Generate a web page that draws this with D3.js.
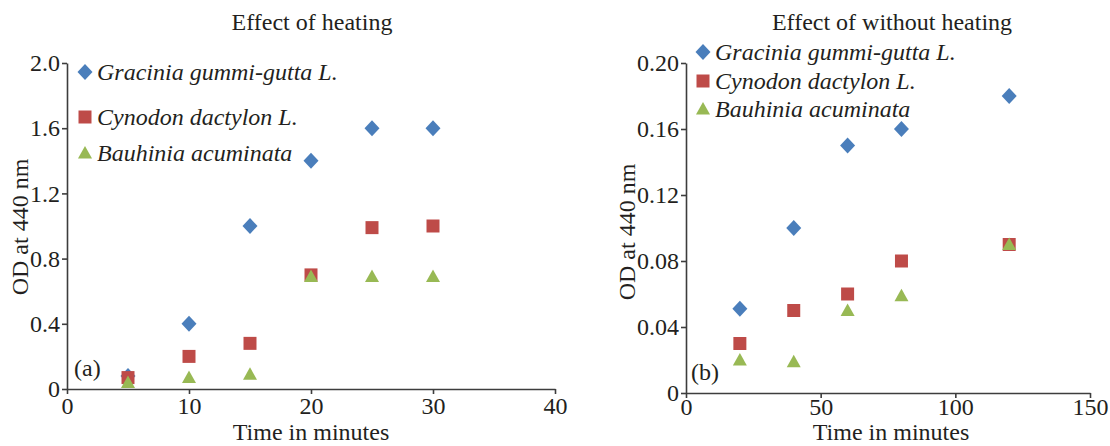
<!doctype html>
<html>
<head>
<meta charset="UTF-8">
<script src="https://d3js.org/d3.v7.min.js"></script>
<style>
  body { margin: 0; background: #fff; }
  text { fill: #231f20; }
  .axis path, .axis line { stroke: #3d3d3d; stroke-width: 1.6; }
  .axis text { fill: #231f20; }
</style>
</head>
<body>
<div id="graph"></div>
<script>
var w = 1110, h = 446;
var serif = "'Liberation Serif', 'Times New Roman', serif";

// panel (a): heating
var timeA = [5, 10, 15, 20, 25, 30];
var gracA = [0.08, 0.4, 1.0, 1.4, 1.6, 1.6];
var cynoA = [0.07, 0.2, 0.28, 0.7, 0.99, 1.0];
var bauhA = [0.04, 0.07, 0.09, 0.69, 0.69, 0.69];
var xTicksA = [0, 10, 20, 30, 40];
var yTicksA = [0, 0.4, 0.8, 1.2, 1.6, 2.0];

// panel (b): without heating
var timeB = [20, 40, 60, 80, 120];
var gracB = [0.051, 0.10, 0.15, 0.16, 0.18];
var cynoB = [0.03, 0.05, 0.06, 0.08, 0.09];
var bauhB = [0.02, 0.019, 0.05, 0.059, 0.09];
var xTicksB = [0, 50, 100, 150];
var yTicksB = [0, 0.04, 0.08, 0.12, 0.16, 0.20];

var names = ["Gracinia gummi-gutta L.", "Cynodon dactylon L.", "Bauhinia acuminata"];
var colors = ["#4a7ebb", "#be4b48", "#98b954"];
var shapes = ["diamond", "square", "triangle"];

var svg = d3.select("#graph").append("svg")
    .attr("width", w)
    .attr("height", h);

function marker(g, shape, color) {
    var p;
    if (shape == "diamond") p = "M0,-8L7.5,0L0,8L-7.5,0Z";
    else if (shape == "square") p = "M-6.5,-6.5H6.5V6.5H-6.5Z";
    else p = "M0,-7L7,5.5H-7Z";
    g.append("path").attr("d", p).attr("fill", color);
}

function label(x, y, str, anchor) {
    return svg.append("text").attr("x", x).attr("y", y)
        .attr("text-anchor", anchor || "start")
        .attr("font-family", serif).attr("font-size", 24)
        .text(str);
}

function panel(o) {
    var x = d3.scaleLinear().domain(o.xdom).range(o.xr);
    var y = d3.scaleLinear().domain(o.ydom).range(o.yr);

    svg.append("g").attr("class", "axis")
        .attr("transform", "translate(0," + o.yr[0] + ")")
        .call(d3.axisBottom(x).tickValues(o.xticks).tickSize(5).tickSizeOuter(0).tickPadding(o.xpad)
            .tickFormat(function(d) { return d; }))
        .attr("font-family", serif).attr("font-size", 24);

    svg.append("g").attr("class", "axis")
        .attr("transform", "translate(" + o.xr[0] + ",0)")
        .call(d3.axisLeft(y).tickValues(o.yticks).tickSize(5).tickSizeOuter(0).tickPadding(2)
            .tickFormat(function(d) { return d == 0 ? "0" : d3.format(o.yfmt)(d); }))
        .attr("font-family", serif).attr("font-size", 24);

    var series = [o.s0, o.s1, o.s2];
    series.forEach(function(vals, k) {
        svg.append("g").selectAll("g")
            .data(vals)
            .enter().append("g")
            .attr("transform", function(d, i) { return "translate(" + x(o.time[i]) + "," + y(d) + ")"; })
            .each(function() { marker(d3.select(this), shapes[k], colors[k]); });
    });

    // legend
    o.legY.forEach(function(ly, k) {
        var g = svg.append("g").attr("transform", "translate(" + o.legX + "," + ly + ")");
        marker(g, shapes[k], colors[k]);
        g.append("text").attr("x", 12).attr("y", 8)
            .attr("font-family", serif).attr("font-size", 24)
            .attr("font-style", "italic")
            .text(names[k]);
    });

    label(o.titleX, 30, o.title, "middle");
    label(o.xlabX, 440, "Time in minutes", "middle");

    svg.append("text")
        .attr("transform", "translate(" + o.ylabX + "," + o.ylabY + ") rotate(-90)")
        .attr("text-anchor", "middle")
        .attr("font-family", serif).attr("font-size", 24)
        .text("OD at 440 nm");

    label(o.tagX, o.tagY, o.tag);
}

panel({
    xdom: [0, 40], xr: [67, 555], ydom: [0, 2], yr: [389, 63],
    xticks: xTicksA, yticks: yTicksA, yfmt: ".1f", xpad: 3,
    time: timeA, s0: gracA, s1: cynoA, s2: bauhA,
    legX: 85, legY: [72, 117, 153],
    title: "Effect of heating", titleX: 312, xlabX: 311, ylabX: 28, ylabY: 227,
    tag: "(a)", tagX: 74, tagY: 376
});

panel({
    xdom: [0, 150], xr: [686, 1090], ydom: [0, 0.2], yr: [393, 63],
    xticks: xTicksB, yticks: yTicksB, yfmt: ".2f", xpad: 0,
    time: timeB, s0: gracB, s1: cynoB, s2: bauhB,
    legX: 703, legY: [52, 81, 109],
    title: "Effect of without heating", titleX: 892, xlabX: 891, ylabX: 635, ylabY: 232,
    tag: "(b)", tagX: 691, tagY: 380
});
</script>
</body>
</html>
